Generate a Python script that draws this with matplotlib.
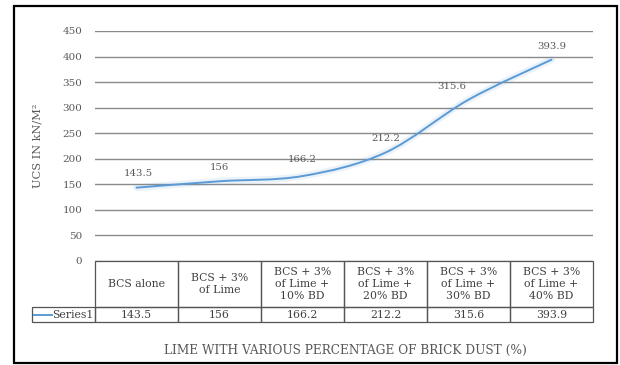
import matplotlib
matplotlib.use("Agg")
import matplotlib.pyplot as plt
import numpy as np
from matplotlib.path import Path
from matplotlib.patches import PathPatch, Rectangle
from matplotlib.table import Table
from matplotlib.lines import Line2D

# UCS of black cotton soil with lime and brick dust
categories = ["BCS alone", "BCS + 3%\nof Lime", "BCS + 3%\nof Lime +\n10% BD",
              "BCS + 3%\nof Lime +\n20% BD", "BCS + 3%\nof Lime +\n30% BD",
              "BCS + 3%\nof Lime +\n40% BD"]
series_name = "Series1"
ucs = [143.5, 156, 166.2, 212.2, 315.6, 393.9]
value_labels = ["143.5", "156", "166.2", "212.2", "315.6", "393.9"]
y_ticks = [0, 50, 100, 150, 200, 250, 300, 350, 400, 450]

FONT = "DejaVu Serif"
TEXT_COLOR = "#595959"
LINE_COLOR = "#5B9BD5"
GRID_COLOR = "#8a8a8a"
EDGE_COLOR = "#555555"

W, H = 620, 365
fig = plt.figure(figsize=(W / 100, H / 100), dpi=100)

# axes box in pixel coordinates (left, right, top of 450, bottom at 0)
ax_l, ax_r, ax_t, ax_b = 95, 593, 31, 261
ax = fig.add_axes([ax_l / W, 1 - ax_b / H, (ax_r - ax_l) / W, (ax_b - ax_t) / H])

n = len(ucs)
xs = np.arange(n) + 0.5
ax.set_xlim(0, n)
ax.set_ylim(0, 450)

ax.set_yticks(y_ticks)
ax.set_xticks([])
ax.tick_params(axis="y", length=0, pad=9, labelsize=7.5, labelcolor=TEXT_COLOR)
for lab in ax.get_yticklabels():
    lab.set_family(FONT)
ax.yaxis.grid(True, color=GRID_COLOR, lw=1.0)
ax.set_axisbelow(True)
for sp in ax.spines.values():
    sp.set_visible(False)

ax.set_ylabel("UCS IN kN/M²", fontsize=8.2, family=FONT, color=TEXT_COLOR)
ax.yaxis.set_label_coords((43 - ax_l) / (ax_r - ax_l), 0.5)

# smoothed line (Catmull-Rom converted to cubic Bezier segments)
pts = np.column_stack([xs, ucs])
verts = [pts[0]]
codes = [Path.MOVETO]
for i in range(n - 1):
    p0 = pts[max(i - 1, 0)]
    p1 = pts[i]
    p2 = pts[i + 1]
    p3 = pts[min(i + 2, n - 1)]
    c1 = p1 + (p2 - p0) / 6.0
    c2 = p2 - (p3 - p1) / 6.0
    verts += [c1, c2, p2]
    codes += [Path.CURVE4] * 3
curve = Path(verts, codes)
ax.add_patch(PathPatch(curve, fill=False, edgecolor=LINE_COLOR, lw=5, alpha=0.12,
                       capstyle="round", clip_on=False))
ax.add_patch(PathPatch(curve, fill=False, edgecolor=LINE_COLOR, lw=1.4,
                       capstyle="round", clip_on=False))

# data labels above the points
label_offsets = [(1, 7), (0, 7), (0, 9), (0, 7), (-12, 6), (0, 6)]
for x, v, txt, off in zip(xs, ucs, value_labels, label_offsets):
    ax.annotate(txt, (x, v), xytext=off, textcoords="offset points",
                ha="center", va="bottom", fontsize=7.3, family=FONT,
                color=TEXT_COLOR)

# data table under the plot
lab_w = ax_l - 32
col_w = (ax_r - ax_l) / n
head_h, row_h = 46, 15
tot_w = lab_w + col_w * n
tot_h = head_h + row_h
ax_w_px, ax_h_px = ax_r - ax_l, ax_b - ax_t
tbl = Table(ax, bbox=[-lab_w / ax_w_px, -tot_h / ax_h_px, tot_w / ax_w_px, tot_h / ax_h_px])
tbl.auto_set_font_size(False)

corner = tbl.add_cell(0, 0, width=lab_w, height=head_h, text="")
corner.visible_edges = ""
for j, cat in enumerate(categories):
    c = tbl.add_cell(0, j + 1, width=col_w, height=head_h, text=cat, loc="center")
    c.get_text().set_linespacing(1.3)
rl = tbl.add_cell(1, 0, width=lab_w, height=row_h, text=series_name, loc="right")
rl.PAD = 0.02
for j, v in enumerate(value_labels):
    tbl.add_cell(1, j + 1, width=col_w, height=row_h, text=v, loc="center")

for cell in tbl.get_celld().values():
    cell.set_edgecolor(EDGE_COLOR)
    cell.set_linewidth(0.9)
    cell.set_facecolor("none")
    t = cell.get_text()
    t.set_fontsize(7.8)
    t.set_family(FONT)
    t.set_color("#404040")
ax.add_table(tbl)

# legend key inside the series cell
fig.add_artist(Line2D([34 / W, 52 / W], [1 - 314.5 / H, 1 - 314.5 / H],
                      color=LINE_COLOR, lw=1.4))

fig.text(345 / W, 1 - 350 / H, "LIME WITH VARIOUS PERCENTAGE OF BRICK DUST (%)",
         ha="center", va="center", fontsize=8.7, family=FONT, color=TEXT_COLOR)

# outer frame
fig.add_artist(Rectangle((14 / W, 1 - 363 / H), (617 - 14) / W, (363 - 6) / H,
                         fill=False, edgecolor="black", lw=1.6,
                         transform=fig.transFigure))

fig.savefig("out.png", dpi=100)
